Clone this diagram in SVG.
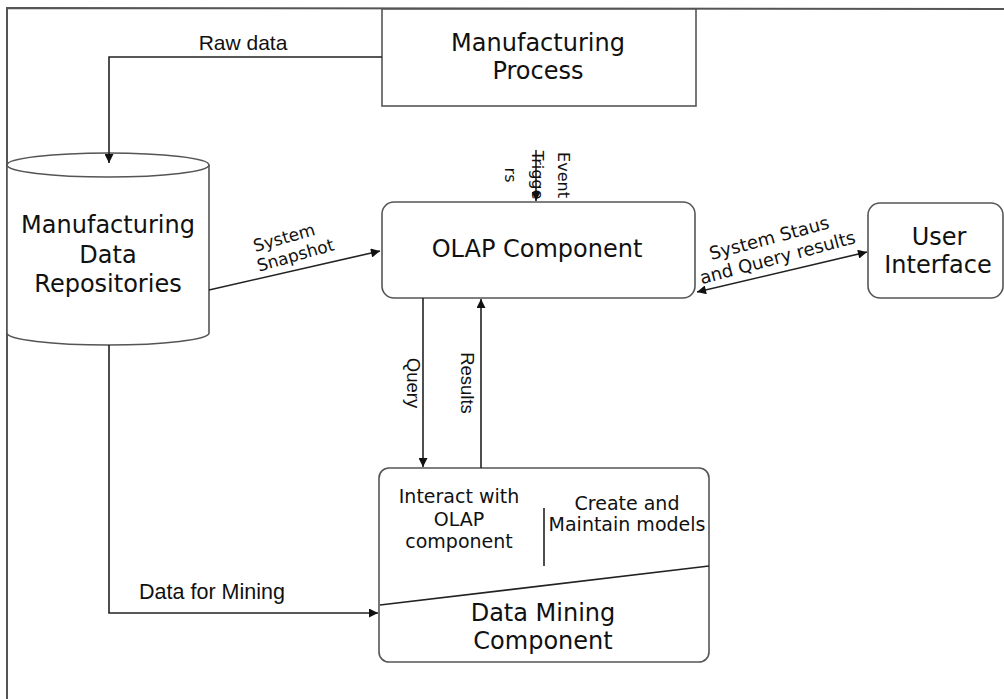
<svg xmlns="http://www.w3.org/2000/svg" width="1004" height="699" viewBox="0 0 1004 699">
<style>
.box{fill:#fff;stroke:#555;stroke-width:1.6}
.frame{fill:none;stroke:#555;stroke-width:2}
.ln{fill:none;stroke:#222;stroke-width:1.6}
.t{font-family:"DejaVu Sans",Verdana,sans-serif;fill:#111;text-anchor:middle}
.big{font-size:24px}
.mid{font-size:19px}
.sm{font-size:16px}
.lab{font-family:"Liberation Sans",Arial,sans-serif;fill:#111;text-anchor:middle}
</style>
<defs>
<marker id="arr" viewBox="0 0 10 10" refX="10" refY="5" markerWidth="11" markerHeight="9" markerUnits="userSpaceOnUse" orient="auto-start-reverse">
<path d="M0,0 L10,5 L0,10 z" fill="#111"/>
</marker>
</defs>
<rect width="1004" height="699" fill="#fff"/>
<g id="frame">
<path class="frame" d="M7,699 L7,8 L1004,9"/>
</g>
<g id="manufacturing-process">
<rect class="box" x="382" y="9" width="314" height="97"/>
<text class="t big" x="538" y="51">Manufacturing</text>
<text class="t big" x="538" y="79">Process</text>
</g>
<g id="repositories">
<path class="box" d="M7,165 L7,333 A101,12 0 0 0 209,333 L209,165"/>
<ellipse class="box" cx="108" cy="165" rx="101" ry="12"/>
<text class="t big" x="108" y="233">Manufacturing</text>
<text class="t big" x="108" y="263">Data</text>
<text class="t big" x="108" y="292">Repositories</text>
</g>
<g id="olap">
<rect class="box" x="382" y="202" width="313" height="96" rx="12"/>
<text class="t big" x="537" y="257">OLAP Component</text>
</g>
<g id="user-interface">
<rect class="box" x="868" y="203" width="135" height="95" rx="12"/>
<text class="t big" x="939" y="245">User</text>
<text class="t big" x="938" y="273">Interface</text>
</g>
<g id="data-mining">
<rect class="box" x="379" y="468" width="330" height="194" rx="10"/>
<path class="ln" d="M380,605 L709,566"/>
<path class="ln" d="M544,508 L544,566" stroke-width="2"/>
<text class="t mid" x="459" y="503">Interact with</text>
<text class="t mid" x="459" y="526">OLAP</text>
<text class="t mid" x="459" y="548">component</text>
<text class="t mid" x="627" y="510">Create and</text>
<text class="t mid" x="627" y="531">Maintain models</text>
<text class="t big" x="543" y="621">Data Mining</text>
<text class="t big" x="543" y="649">Component</text>
</g>
<g id="connectors">
<path class="ln" d="M382,57 L109,57 L109,163" marker-end="url(#arr)"/>
<text class="lab" font-size="21" x="243" y="50">Raw data</text>
<path class="ln" d="M209,290 L380,251" marker-end="url(#arr)"/>
<g transform="translate(288,251) rotate(-16)">
<text class="t" font-size="17" x="0" y="-8">System</text>
<text class="t" font-size="17" x="6" y="12">Snapshot</text>
</g>
<path class="ln" d="M697,292 L867,252" marker-start="url(#arr)" marker-end="url(#arr)"/>
<g transform="translate(776,252) rotate(-15)">
<text class="t" font-size="18" x="-3" y="-9">System Staus</text>
<text class="t" font-size="18" x="0" y="12">and Query results</text>
</g>
<path class="ln" d="M536,150 L536,201" marker-end="url(#arr)"/>
<g transform="translate(0,175)">
<text class="t sm" transform="translate(558,0) rotate(90)">Event</text>
<text class="t sm" transform="translate(532,0) rotate(90)">Trigge</text>
<text class="t sm" transform="translate(505,0) rotate(90)">rs</text>
</g>
<path class="ln" d="M423,298 L423,467" marker-end="url(#arr)"/>
<text class="lab" font-size="18.5" transform="translate(407,383) rotate(90)">Query</text>
<path class="ln" d="M481,468 L481,299" marker-end="url(#arr)"/>
<text class="lab" font-size="18.5" transform="translate(461,383) rotate(90)">Results</text>
<path class="ln" d="M109,345 L109,613 L378,613" marker-end="url(#arr)"/>
<text class="lab" font-size="21.5" x="212" y="599">Data for Mining</text>
</g>
</svg>
